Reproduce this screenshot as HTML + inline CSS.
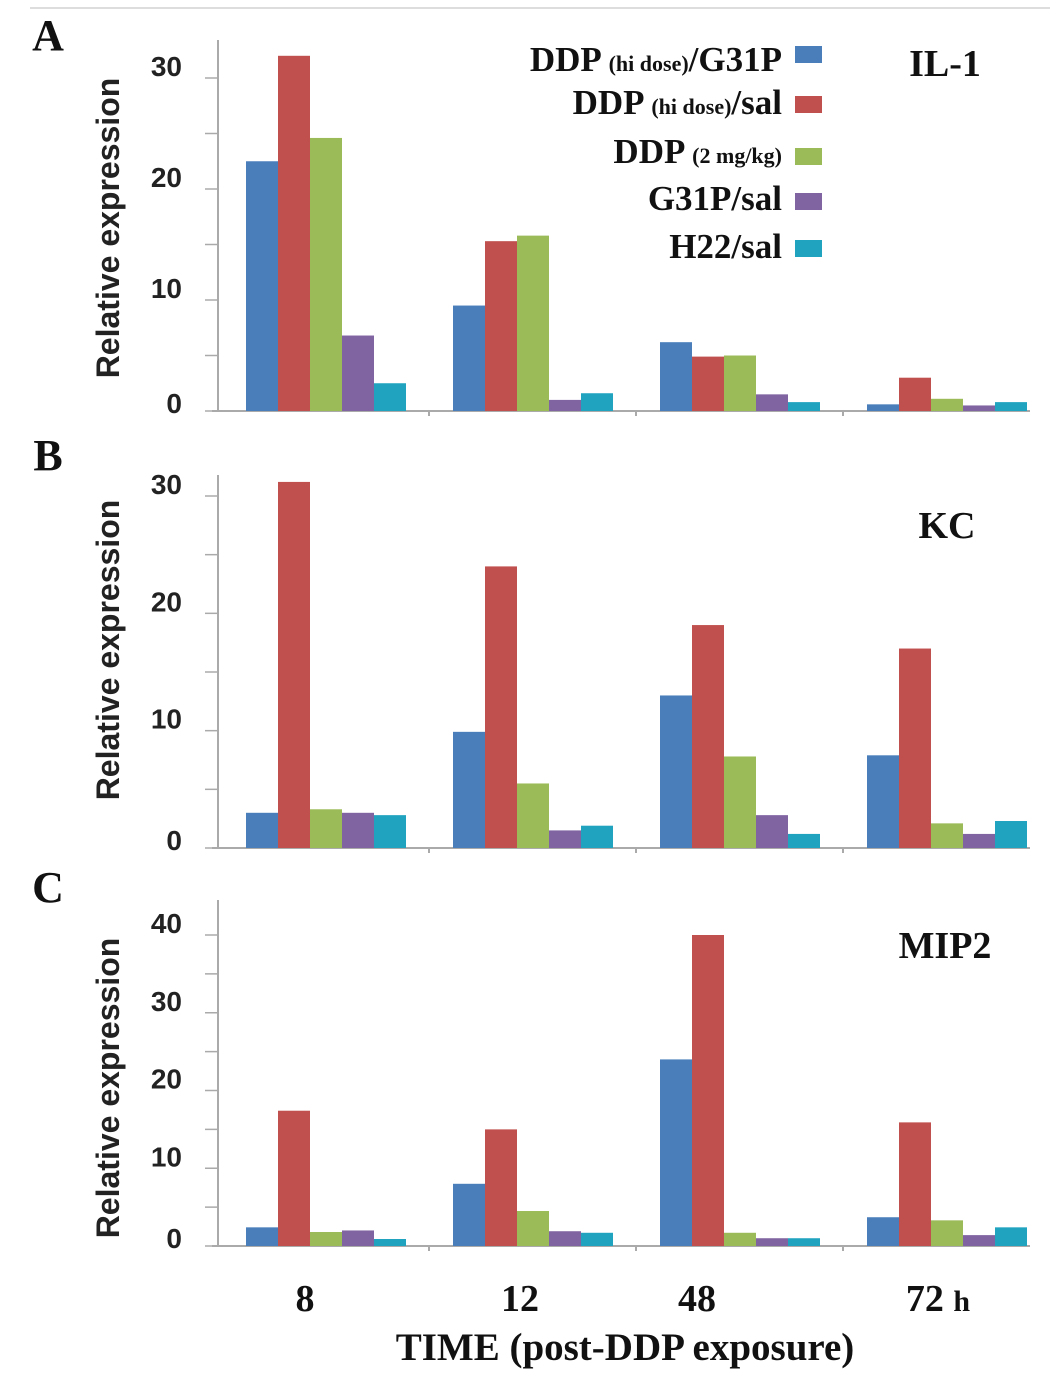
<!DOCTYPE html>
<html><head><meta charset="utf-8"><style>
html,body{margin:0;padding:0;background:#fff;}
svg{display:block;}
.serif{font-family:"Liberation Serif",serif;font-weight:bold;fill:#111;}
.sans{font-family:"Liberation Sans",sans-serif;font-weight:bold;fill:#222;}
</style></head><body>
<svg id="chart" width="1063" height="1388" viewBox="0 0 1063 1388" xmlns="http://www.w3.org/2000/svg">
<line x1="30" y1="8" x2="1050" y2="8" stroke="#ddd" stroke-width="2"/>
<g id="legend">
 <g><text class="serif" x="782" y="71" text-anchor="end" font-size="35">DDP <tspan font-size="22">(hi dose)</tspan>/G31P</text><rect x="795" y="46" width="27" height="17" fill="#4a7ebb"/></g>
 <g><text class="serif" x="782" y="114" text-anchor="end" font-size="35">DDP <tspan font-size="22">(hi dose)</tspan>/sal</text><rect x="795" y="96" width="27" height="17" fill="#c0504d"/></g>
 <g><text class="serif" x="782" y="163" text-anchor="end" font-size="35">DDP <tspan font-size="22">(2 mg/kg)</tspan></text><rect x="795" y="148" width="27" height="17" fill="#9bbb59"/></g>
 <g><text class="serif" x="782" y="210" text-anchor="end" font-size="35">G31P/sal</text><rect x="795" y="193" width="27" height="17" fill="#8064a2"/></g>
 <g><text class="serif" x="782" y="258" text-anchor="end" font-size="35">H22/sal</text><rect x="795" y="240" width="27" height="17" fill="#1fa3bf"/></g>
</g>
<text class="serif" x="305" y="1311" text-anchor="middle" font-size="38">8</text>
<text class="serif" x="520" y="1311" text-anchor="middle" font-size="38">12</text>
<text class="serif" x="697" y="1311" text-anchor="middle" font-size="38">48</text>
<text class="serif" x="938" y="1311" text-anchor="middle" font-size="38">72 <tspan font-size="30">h</tspan></text>
<text class="serif" x="625" y="1360" text-anchor="middle" font-size="39">TIME (post-DDP exposure)</text>
</svg>
<script>
const categories = ["8","12","48","72"];
const seriesNames = ["DDP (hi dose)/G31P","DDP (hi dose)/sal","DDP (2 mg/kg)","G31P/sal","H22/sal"];
const il1Values = [[22.5,9.5,6.2,0.6],[32,15.3,4.9,3.0],[24.6,15.8,5.0,1.1],[6.8,1.0,1.5,0.5],[2.5,1.6,0.8,0.8]];
const kcValues = [[3,9.9,13,7.9],[31.2,24,19,17],[3.3,5.5,7.8,2.1],[3,1.5,2.8,1.2],[2.8,1.9,1.2,2.3]];
const mip2Values = [[2.4,8,24,3.7],[17.4,15,40,15.9],[1.8,4.5,1.7,3.3],[2,1.9,1,1.4],[0.9,1.7,1,2.4]];
const il1Ticks = [0,10,20,30];
const kcTicks = [0,10,20,30];
const mip2Ticks = [0,10,20,30,40];
const colors = ["#4a7ebb","#c0504d","#9bbb59","#8064a2","#1fa3bf"];
const NS = "http://www.w3.org/2000/svg";
const svg = document.getElementById("chart");
function mk(tag, attrs, parent){const e=document.createElementNS(NS,tag);for(const k in attrs)e.setAttribute(k,attrs[k]);(parent||svg).appendChild(e);return e;}
function panel(cfg){
  const g = mk("g",{});
  
  
  const y = v => cfg.y0 - v*(cfg.y0-cfg.yTop)/cfg.vTop;
  const bandW = 207, left = 222, barW = 32, off = 24;
  const x = (ci, si) => left + ci*bandW + off + si*barW;
  const ya = mk("line",{x1:218,y1:cfg.axTop,x2:218,y2:cfg.y0,stroke:"#aaa","stroke-width":2},g);
  
  
  const xa = mk("line",{x1:212,y1:cfg.y0,x2:1030,y2:cfg.y0,stroke:"#aaa","stroke-width":2},g);
  
  
  for(let i=1;i<categories.length;i++){mk("line",{x1:left+i*bandW,y1:cfg.y0,x2:left+i*bandW,y2:cfg.y0+5,stroke:"#aaa","stroke-width":2},g);}
  const step = cfg.ticks[1]-cfg.ticks[0];
  for(let v=0; y(v)>=cfg.axTop; v+=step/2){
    mk("line",{x1:205,y1:y(v),x2:218,y2:y(v),stroke:"#aaa","stroke-width":1.5},g);
  }
  cfg.ticks.forEach(t=>{
    const tx = mk("text",{x:182,y:y(t)+(t===0?2:-2),"text-anchor":"end","font-size":28,class:"sans"},g);
    tx.textContent = t;
    
    
  });
  cfg.values.forEach((ser,si)=>{
    ser.forEach((v,ci)=>{
      const r = mk("rect",{x:x(ci,si),y:y(v),width:barW,height:cfg.y0-y(v),fill:colors[si]},g);
      
      
    });
  });
  const yt = mk("text",{x:0,y:0,transform:`translate(119,${cfg.titleY}) rotate(-90)`,"text-anchor":"middle","font-size":32,class:"sans"},g);
  yt.textContent = "Relative expression";
  
  
  const pl = mk("text",{x:48,y:cfg.letterY,"text-anchor":"middle","font-size":44,class:"serif"},g);
  pl.textContent = cfg.letter;
  
  
  const gt = mk("text",{x:cfg.geneX,y:cfg.geneY,"text-anchor":"middle","font-size":38,class:"serif"},g);
  gt.textContent = cfg.gene;
  
  
}
panel({name:"panel-a-il1",short:"il1",values:il1Values,ticks:il1Ticks,y0:411,yTop:78,vTop:30,axTop:40,titleY:228,letter:"A",letterY:50,gene:"IL-1",geneX:945,geneY:76});
panel({name:"panel-b-kc",short:"kc",values:kcValues,ticks:kcTicks,y0:848,yTop:496,vTop:30,axTop:475,titleY:650,letter:"B",letterY:470,gene:"KC",geneX:947,geneY:538});
panel({name:"panel-c-mip2",short:"mip2",values:mip2Values,ticks:mip2Ticks,y0:1246,yTop:935,vTop:40,axTop:900,titleY:1088,letter:"C",letterY:902,gene:"MIP2",geneX:945,geneY:958});
</script>
</body></html>
